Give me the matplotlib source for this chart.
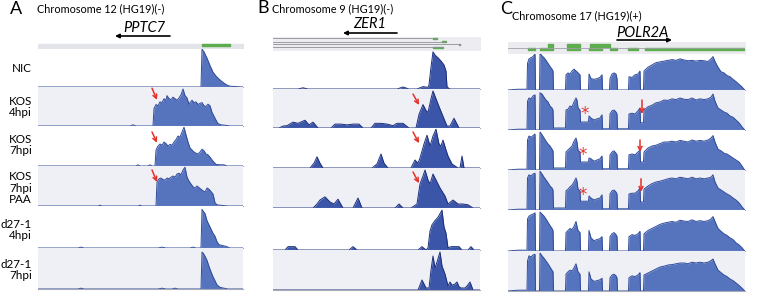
import numpy as np
import matplotlib
matplotlib.use('Agg')
import matplotlib.pyplot as plt

plt.rcParams['font.family'] = ['Lato', 'DejaVu Sans']

W, H = 757, 293

row_labels = ['NIC', 'KOS\n4hpi', 'KOS\n7hpi', 'KOS\n7hpi\nPAA', 'd27-1\n4hpi', 'd27-1\n7hpi']

# ---- panel A : PPTC7 coverage (position along locus, relative coverage) ----
A_nic_pos = [0, 163, 164, 166, 169, 172, 175, 178, 182, 186, 189, 192, 205]
A_nic_cov = [0, 0, 0.97, 0.9, 0.74, 0.55, 0.38, 0.28, 0.18, 0.1, 0.05, 0.02, 0]
A_kos4_pos = [0, 92, 95, 98, 115, 116, 118, 120, 122, 124, 126, 128, 129, 131, 133, 135, 137, 139, 141, 143,
              145, 147, 149, 151, 152, 154, 156, 158, 160, 162, 164, 166, 168, 170, 172, 174, 176, 178, 180, 183,
              187, 192, 205]
A_kos4_cov = [0, 0, 0.03, 0, 0, 0.45, 0.55, 0.52, 0.62, 0.6, 0.7, 0.66, 0.78, 0.7, 0.68, 0.74, 0.7, 0.66, 0.72, 0.8,
              0.95, 0.78, 0.72, 0.55, 0.6, 0.66, 0.6, 0.62, 0.55, 0.58, 0.6, 0.52, 0.5, 0.56, 0.52, 0.35, 0.25, 0.15,
              0.06, 0.03, 0.02, 0, 0]
A_kos7_pos = [0, 98, 100, 102, 110, 112, 114, 117, 118, 120, 122, 124, 126, 128, 130, 132, 134, 136, 138, 140,
              142, 144, 146, 148, 150, 152, 154, 156, 158, 160, 162, 164, 166, 168, 170, 172, 175, 178, 182, 186,
              189, 192, 205]
A_kos7_cov = [0, 0, 0.03, 0, 0, 0.03, 0, 0, 0.4, 0.5, 0.55, 0.52, 0.6, 0.56, 0.5, 0.54, 0.52, 0.6, 0.66, 0.75,
              0.72, 0.85, 0.97, 0.78, 0.6, 0.45, 0.4, 0.35, 0.32, 0.3, 0.35, 0.42, 0.38, 0.3, 0.28, 0.22, 0.12, 0.04,
              0.03, 0.03, 0, 0, 0]
A_paa_pos = [0, 60, 62, 64, 100, 102, 104, 118, 119, 121, 123, 125, 127, 129, 131, 133, 135, 137, 139, 141,
             143, 145, 147, 149, 151, 153, 155, 157, 159, 161, 163, 165, 167, 169, 171, 173, 175, 177, 179, 182,
             186, 190, 205]
A_paa_cov = [0, 0, 0.02, 0, 0, 0.02, 0, 0, 0.6, 0.68, 0.7, 0.66, 0.65, 0.7, 0.68, 0.72, 0.75, 0.72, 0.8, 0.82,
             0.78, 0.9, 0.97, 0.72, 0.62, 0.55, 0.48, 0.45, 0.5, 0.46, 0.42, 0.38, 0.35, 0.45, 0.42, 0.36, 0.3,
             0.08, 0.03, 0.02, 0.01, 0, 0]
A_d4_pos = [0, 40, 43, 46, 120, 124, 128, 152, 155, 158, 163, 164, 165, 167, 169, 171, 173, 175, 177, 179, 181,
            184, 188, 192, 205]
A_d4_cov = [0, 0, 0.02, 0, 0, 0.02, 0, 0, 0.02, 0, 0, 0.92, 0.88, 0.82, 0.65, 0.55, 0.45, 0.35, 0.28, 0.15, 0.08,
            0.06, 0.04, 0, 0]
A_d7_pos = [0, 40, 43, 46, 120, 124, 128, 134, 137, 140, 163, 164, 165, 167, 169, 171, 173, 175, 177, 179, 182,
            186, 190, 205]
A_d7_cov = [0, 0, 0.02, 0, 0, 0.02, 0, 0, 0.02, 0, 0, 0.9, 0.88, 0.8, 0.7, 0.55, 0.42, 0.3, 0.2, 0.1, 0.04, 0.02,
            0, 0]
A_exons = [(164, 28)]

# ---- panel B : ZER1 ----
B_nic_pos = [0, 25, 30, 35, 124, 130, 136, 144, 150, 155, 156, 158, 160, 162, 165, 168, 171, 173, 174, 177, 207]
B_nic_cov = [0, 0, 0.03, 0, 0, 0.05, 0, 0, 0.06, 0.04, 0.1, 0.55, 0.93, 0.85, 0.78, 0.7, 0.6, 0.45, 0.05, 0, 0]
B_kos4_pos = [0, 6, 10, 14, 20, 25, 32, 36, 40, 45, 58, 62, 68, 74, 80, 86, 90, 98, 102, 108, 114, 120, 124, 130,
              136, 143, 146, 150, 153, 155, 158, 160, 163, 166, 170, 174, 177, 181, 186, 207]
B_kos4_cov = [0, 0, 0.05, 0.06, 0.15, 0.12, 0.2, 0.08, 0.15, 0, 0, 0.1, 0.1, 0.08, 0.1, 0.1, 0, 0, 0.12, 0.12,
              0.1, 0.06, 0.12, 0.12, 0, 0, 0.35, 0.6, 0.45, 0.4, 0.75, 0.95, 0.75, 0.55, 0.3, 0.05, 0.05, 0.25, 0, 0]
B_kos7_pos = [0, 37, 41, 44, 47, 50, 99, 104, 108, 111, 115, 138, 142, 145, 147, 151, 154, 157, 160, 163, 166,
              168, 170, 173, 175, 179, 182, 185, 187, 189, 191, 207]
B_kos7_cov = [0, 0, 0.12, 0.28, 0.12, 0, 0, 0.1, 0.35, 0.12, 0, 0, 0.2, 0.12, 0.25, 0.6, 0.82, 0.55, 0.8, 0.97,
              0.6, 0.55, 0.7, 0.45, 0.3, 0.1, 0.05, 0, 0, 0.3, 0, 0]
B_paa_pos = [0, 40, 44, 47, 52, 57, 61, 65, 70, 80, 85, 89, 122, 126, 130, 138, 141, 144, 147, 150, 152, 155,
             157, 160, 163, 167, 172, 175, 180, 185, 190, 195, 200, 207]
B_paa_cov = [0, 0, 0.1, 0.2, 0.28, 0.15, 0.1, 0.22, 0, 0, 0.25, 0, 0, 0.1, 0, 0, 0.05, 0.1, 0.6, 0.8, 0.95, 0.7,
             0.6, 0.85, 0.7, 0.5, 0.3, 0.1, 0.2, 0.1, 0.1, 0.08, 0, 0]
B_d4_pos = [0, 12, 15, 22, 25, 76, 80, 84, 145, 149, 153, 155, 157, 159, 162, 165, 169, 171, 173, 175, 178, 181,
            186, 189, 195, 198, 201, 207]
B_d4_cov = [0, 0, 0.08, 0.08, 0, 0, 0.08, 0, 0, 0.08, 0, 0.05, 0.45, 0.6, 0.7, 0.78, 0.95, 0.55, 0.4, 0.05, 0.08,
            0.08, 0.08, 0, 0, 0.08, 0, 0]
B_d7_pos = [0, 145, 149, 153, 156, 158, 160, 162, 164, 167, 169, 172, 175, 177, 179, 182, 184, 186, 188, 192,
            194, 197, 200, 207]
B_d7_cov = [0, 0, 0.25, 0.05, 0.05, 0.5, 0.85, 0.55, 0.7, 0.95, 0.6, 0.4, 0.1, 0.2, 0.12, 0.15, 0.2, 0.08, 0.05,
            0.05, 0.1, 0.2, 0, 0]
B_tx_ends = [164, 173, 187, 170]
B_tx_exons = [[(160, 4)], [(169, 4)], [(185.5, 1.5)], [(160, 10)]]

# ---- panel C : POLR2A (shared positions for all rows) ----
C_pos = [0, 10, 19, 19.5, 21, 23, 25, 27, 27.5, 31.5,
         32, 34, 36, 38, 40, 42, 44, 45, 45.5, 57.5,
         58, 60, 62, 64, 66, 68, 69, 70, 72, 72.5,
         80.5, 81, 83, 86, 89, 92, 94, 94.5, 101.5, 102,
         104, 106, 108, 109, 109.5, 120.5, 121, 124, 127, 130,
         132, 132.5, 135.5, 136, 140, 144, 148, 152, 156, 160,
         164, 168, 172, 176, 180, 184, 188, 192, 196, 200,
         203, 205, 207, 210, 213, 216, 219, 222, 225, 228,
         231, 234, 236, 237]
C_nic = [0, 0.02, 0.02, 0.7, 0.82, 0.85, 0.88, 0.95, 0, 0,
         0.97, 0.9, 0.85, 0.78, 0.7, 0.62, 0.55, 0.5, 0, 0,
         0.4, 0.45, 0.42, 0.5, 0.55, 0.5, 0.48, 0.45, 0.4, 0,
         0, 0.42, 0.3, 0.28, 0.3, 0.33, 0.4, 0, 0, 0.3,
         0.42, 0.45, 0.42, 0.3, 0, 0, 0.35, 0.33, 0.4, 0.42,
         0.5, 0, 0, 0.5, 0.6, 0.66, 0.72, 0.74, 0.76, 0.78,
         0.8, 0.78, 0.82, 0.79, 0.77, 0.78, 0.76, 0.78, 0.77, 0.75,
         0.82, 0.88, 0.75, 0.6, 0.48, 0.45, 0.38, 0.35, 0.28, 0.22,
         0.15, 0.08, 0.02, 0]
C_kos4 = [0, 0.02, 0.02, 0.72, 0.8, 0.78, 0.85, 0.88, 0, 0,
          0.93, 0.9, 0.82, 0.75, 0.7, 0.6, 0.55, 0.5, 0.05, 0.05,
          0.5, 0.52, 0.6, 0.58, 0.7, 0.8, 0.75, 0.55, 0.5, 0.2,
          0.2, 0.35, 0.3, 0.25, 0.28, 0.3, 0.38, 0.03, 0.03, 0.4,
          0.48, 0.5, 0.45, 0.4, 0.03, 0.03, 0.4, 0.42, 0.4, 0.48,
          0.55, 0.18, 0.18, 0.5, 0.58, 0.62, 0.68, 0.7, 0.75, 0.74,
          0.78, 0.76, 0.8, 0.77, 0.76, 0.8, 0.75, 0.78, 0.76, 0.78,
          0.82, 0.9, 0.72, 0.55, 0.5, 0.45, 0.42, 0.35, 0.32, 0.25,
          0.18, 0.08, 0.02, 0]
C_kos7 = [0, 0.02, 0.02, 0.75, 0.85, 0.82, 0.86, 0.9, 0, 0,
          0.95, 0.88, 0.8, 0.72, 0.65, 0.6, 0.52, 0.48, 0.05, 0.05,
          0.45, 0.5, 0.55, 0.6, 0.72, 0.8, 0.7, 0.5, 0.45, 0.2,
          0.2, 0.3, 0.28, 0.22, 0.25, 0.28, 0.35, 0.03, 0.03, 0.38,
          0.45, 0.48, 0.42, 0.38, 0.03, 0.03, 0.38, 0.4, 0.38, 0.45,
          0.5, 0.2, 0.2, 0.45, 0.55, 0.6, 0.62, 0.66, 0.7, 0.7,
          0.72, 0.7, 0.74, 0.72, 0.7, 0.75, 0.72, 0.74, 0.72, 0.75,
          0.8, 0.86, 0.7, 0.52, 0.48, 0.42, 0.4, 0.35, 0.3, 0.25,
          0.2, 0.1, 0.02, 0]
C_paa = [0, 0.02, 0.02, 0.8, 0.88, 0.85, 0.9, 0.92, 0, 0,
         0.97, 0.9, 0.82, 0.75, 0.68, 0.6, 0.55, 0.5, 0.05, 0.05,
         0.48, 0.52, 0.58, 0.62, 0.7, 0.8, 0.72, 0.52, 0.48, 0.22,
         0.22, 0.35, 0.3, 0.25, 0.28, 0.3, 0.38, 0.03, 0.03, 0.4,
         0.48, 0.5, 0.45, 0.4, 0.03, 0.03, 0.4, 0.42, 0.42, 0.48,
         0.55, 0.2, 0.2, 0.52, 0.6, 0.66, 0.7, 0.72, 0.75, 0.78,
         0.8, 0.78, 0.82, 0.8, 0.78, 0.82, 0.78, 0.8, 0.78, 0.8,
         0.82, 0.88, 0.7, 0.55, 0.5, 0.45, 0.4, 0.36, 0.3, 0.25,
         0.18, 0.08, 0.02, 0]
C_d4 = [0, 0.02, 0.02, 0.78, 0.85, 0.88, 0.9, 0.93, 0, 0,
        0.95, 0.9, 0.85, 0.78, 0.7, 0.62, 0.55, 0.5, 0, 0,
        0.45, 0.5, 0.55, 0.52, 0.6, 0.72, 0.6, 0.5, 0.45, 0,
        0, 0.5, 0.32, 0.25, 0.28, 0.3, 0.35, 0, 0, 0.35,
        0.42, 0.45, 0.4, 0.35, 0, 0, 0.35, 0.4, 0.38, 0.42,
        0.48, 0, 0, 0.42, 0.5, 0.55, 0.6, 0.65, 0.68, 0.7,
        0.72, 0.7, 0.75, 0.73, 0.72, 0.76, 0.72, 0.74, 0.72, 0.74,
        0.78, 0.84, 0.72, 0.55, 0.48, 0.42, 0.38, 0.32, 0.28, 0.2,
        0.15, 0.08, 0.02, 0]
C_d7 = [0, 0.02, 0.02, 0.75, 0.88, 0.85, 0.9, 0.92, 0, 0,
        0.95, 0.88, 0.82, 0.75, 0.68, 0.6, 0.52, 0.48, 0, 0,
        0.42, 0.48, 0.52, 0.5, 0.58, 0.68, 0.58, 0.48, 0.42, 0,
        0, 0.48, 0.3, 0.24, 0.26, 0.28, 0.32, 0, 0, 0.33,
        0.4, 0.42, 0.38, 0.33, 0, 0, 0.33, 0.38, 0.36, 0.4,
        0.46, 0, 0, 0.4, 0.45, 0.5, 0.55, 0.6, 0.62, 0.65,
        0.66, 0.68, 0.7, 0.7, 0.68, 0.72, 0.7, 0.72, 0.7, 0.72,
        0.76, 0.8, 0.68, 0.52, 0.46, 0.4, 0.36, 0.3, 0.26, 0.2,
        0.14, 0.07, 0.02, 0]
C_exons_low = [(20, 7), (32, 13), (59, 13), (81, 13), (102, 7), (120, 10), (137, 100)]
C_exons_high = [(40, 5), (59, 13), (82, 20)]

# red marks: (row, tail pos, tail h, head pos, head h)
A_arrows = [(1, 114, 0.97, 119, 0.67), (2, 114, 0.85, 119, 0.58), (3, 114, 0.9, 119, 0.6)]
B_arrows = [(1, 140, 0.87, 146, 0.59), (2, 140, 0.9, 146, 0.62), (3, 140, 0.9, 146, 0.62)]
C_arrows = [(1, 134, 0.75, 134, 0.4), (2, 132, 0.75, 132, 0.45), (3, 133, 0.78, 133, 0.45)]
C_stars = [(1, 77, 0.4), (2, 75, 0.37), (3, 75, 0.37)]

RED = '#e4322b'
GREEN = '#5dac4e'
LIGHT = '#eff0f6'

fig = plt.figure(figsize=(W / 100, H / 100), dpi=100)


def px_axes(x0, y0, x1, y1):
    return fig.add_axes([x0 / W, 1 - y1 / H, (x1 - x0) / W, (y1 - y0) / H])


def draw_panel(left, right, top, bases, width, tracks, fill, edge):
    axs = []
    edges = [top] + bases
    for i, (pos, cov) in enumerate(tracks):
        ax = px_axes(left, edges[i], right, edges[i + 1])
        ax.set_xlim(0, width)
        ax.set_ylim(0, 1.0)
        ax.set_facecolor(LIGHT if i % 2 == 1 else 'white')
        ax.fill_between(pos, cov, 0, color=fill, lw=0)
        ax.plot(pos, cov, color=edge, lw=0.7)
        for s in ['top', 'left', 'right']:
            ax.spines[s].set_visible(False)
        ax.spines['bottom'].set_color('#a8aab6')
        ax.spines['bottom'].set_linewidth(0.8)
        ax.set_xticks([])
        ax.set_yticks([])
        axs.append(ax)
    return axs


axA = draw_panel(38, 243, 48, [87, 126, 166, 206, 248, 289], 205,
                 [(A_nic_pos, A_nic_cov), (A_kos4_pos, A_kos4_cov), (A_kos7_pos, A_kos7_cov),
                  (A_paa_pos, A_paa_cov), (A_d4_pos, A_d4_cov), (A_d7_pos, A_d7_cov)],
                 '#5673bd', '#2f4a9a')
axB = draw_panel(273, 480, 49, [89, 128, 168, 208, 250, 290], 207,
                 [(B_nic_pos, B_nic_cov), (B_kos4_pos, B_kos4_cov), (B_kos7_pos, B_kos7_cov),
                  (B_paa_pos, B_paa_cov), (B_d4_pos, B_d4_cov), (B_d7_pos, B_d7_cov)],
                 '#3b55a8', '#1d2f7c')
axC = draw_panel(508, 745, 52, [90, 130, 170, 210, 251, 291], 237,
                 [(C_pos, C_nic), (C_pos, C_kos4), (C_pos, C_kos7),
                  (C_pos, C_paa), (C_pos, C_d4), (C_pos, C_d7)],
                 '#5673bd', '#2f4a9a')

for axs, arrows in [(axA, A_arrows), (axB, B_arrows), (axC, C_arrows)]:
    for r, x0, y0, x1, y1 in arrows:
        axs[r].annotate('', xy=(x1, y1), xytext=(x0, y0),
                        arrowprops=dict(arrowstyle='->', color=RED, lw=1.1, mutation_scale=7,
                                        shrinkA=0, shrinkB=0))
for r, x, y in C_stars:
    axC[r].text(x, y, '*', color=RED, fontsize=12, ha='center', va='center', family='DejaVu Sans')

# gene models
gA = px_axes(38, 43, 243, 48)
gA.set_xlim(0, 205)
gA.set_ylim(1, 0)
gA.axis('off')
gA.broken_barh([(0, 205)], (0.15, 0.8), color='#e3e4ea')
gA.broken_barh(A_exons, (0.1, 0.5), color=GREEN)

gB = px_axes(273, 37, 480, 49.5)
gB.set_xlim(0, 207)
gB.set_ylim(12.5, 0)
gB.axis('off')
gB.broken_barh([(0, 207)], (0, 12.5), color='#ececf1')
for k, (end, ex) in enumerate(zip(B_tx_ends, B_tx_exons)):
    yy = [1.3, 4.7, 7.3, 10.3][k]
    gB.plot([0, end], [yy, yy], color='#8e8e96', lw=0.6)
    hh = 1.6 if k == 3 else 1.2
    gB.broken_barh(ex, (yy - hh / 2, hh), color='#8e8e96' if k == 2 else GREEN)

gC = px_axes(508, 42, 745, 52.5)
gC.set_xlim(0, 237)
gC.set_ylim(10.5, 0)
gC.axis('off')
gC.broken_barh([(0, 237)], (0, 10.5), color='#ececf0')
gC.plot([0, 237], [5.6, 5.6], color='#a0a0a8', lw=0.6)
gC.broken_barh(C_exons_low, (5.6, 2.8), color=GREEN)
gC.broken_barh(C_exons_high, (2.2, 3.0), color=GREEN)

# text overlay
ov = fig.add_axes([0, 0, 1, 1])
ov.set_xlim(0, W)
ov.set_ylim(H, 0)
ov.axis('off')

ov.text(10, 14, 'A', fontsize=13, va='baseline')
ov.text(257.5, 13, 'B', fontsize=13, va='baseline')
ov.text(500, 14, 'C', fontsize=13, va='baseline')
ov.text(37, 12.5, 'Chromosome 12 (HG19)(-)', fontsize=7.8, va='baseline')
ov.text(272, 12, 'Chromosome 9 (HG19)(-)', fontsize=7.8, va='baseline')
ov.text(512, 19.5, 'Chromosome 17 (HG19)(+)', fontsize=7.8, va='baseline')
ov.text(144, 32, 'PPTC7', fontsize=10.5, style='italic', ha='center', va='baseline')
ov.text(370, 28, 'ZER1', fontsize=10.5, style='italic', ha='center', va='baseline')
ov.text(642, 37, 'POLR2A', fontsize=10.5, style='italic', ha='center', va='baseline')
for x0, x1, y in [(170, 115, 36), (397, 343, 33), (617, 672, 40)]:
    ov.annotate('', xy=(x1, y), xytext=(x0, y),
                arrowprops=dict(arrowstyle='-|>', color='black', lw=1.2, mutation_scale=6,
                                shrinkA=0, shrinkB=0))

label_y = [69, 107, 145, 188, 230, 270]
for lab, y in zip(row_labels, label_y):
    ov.text(32, y, lab, fontsize=8.4, ha='right', va='center', linespacing=1.1)

fig.savefig('out.png', dpi=100)
